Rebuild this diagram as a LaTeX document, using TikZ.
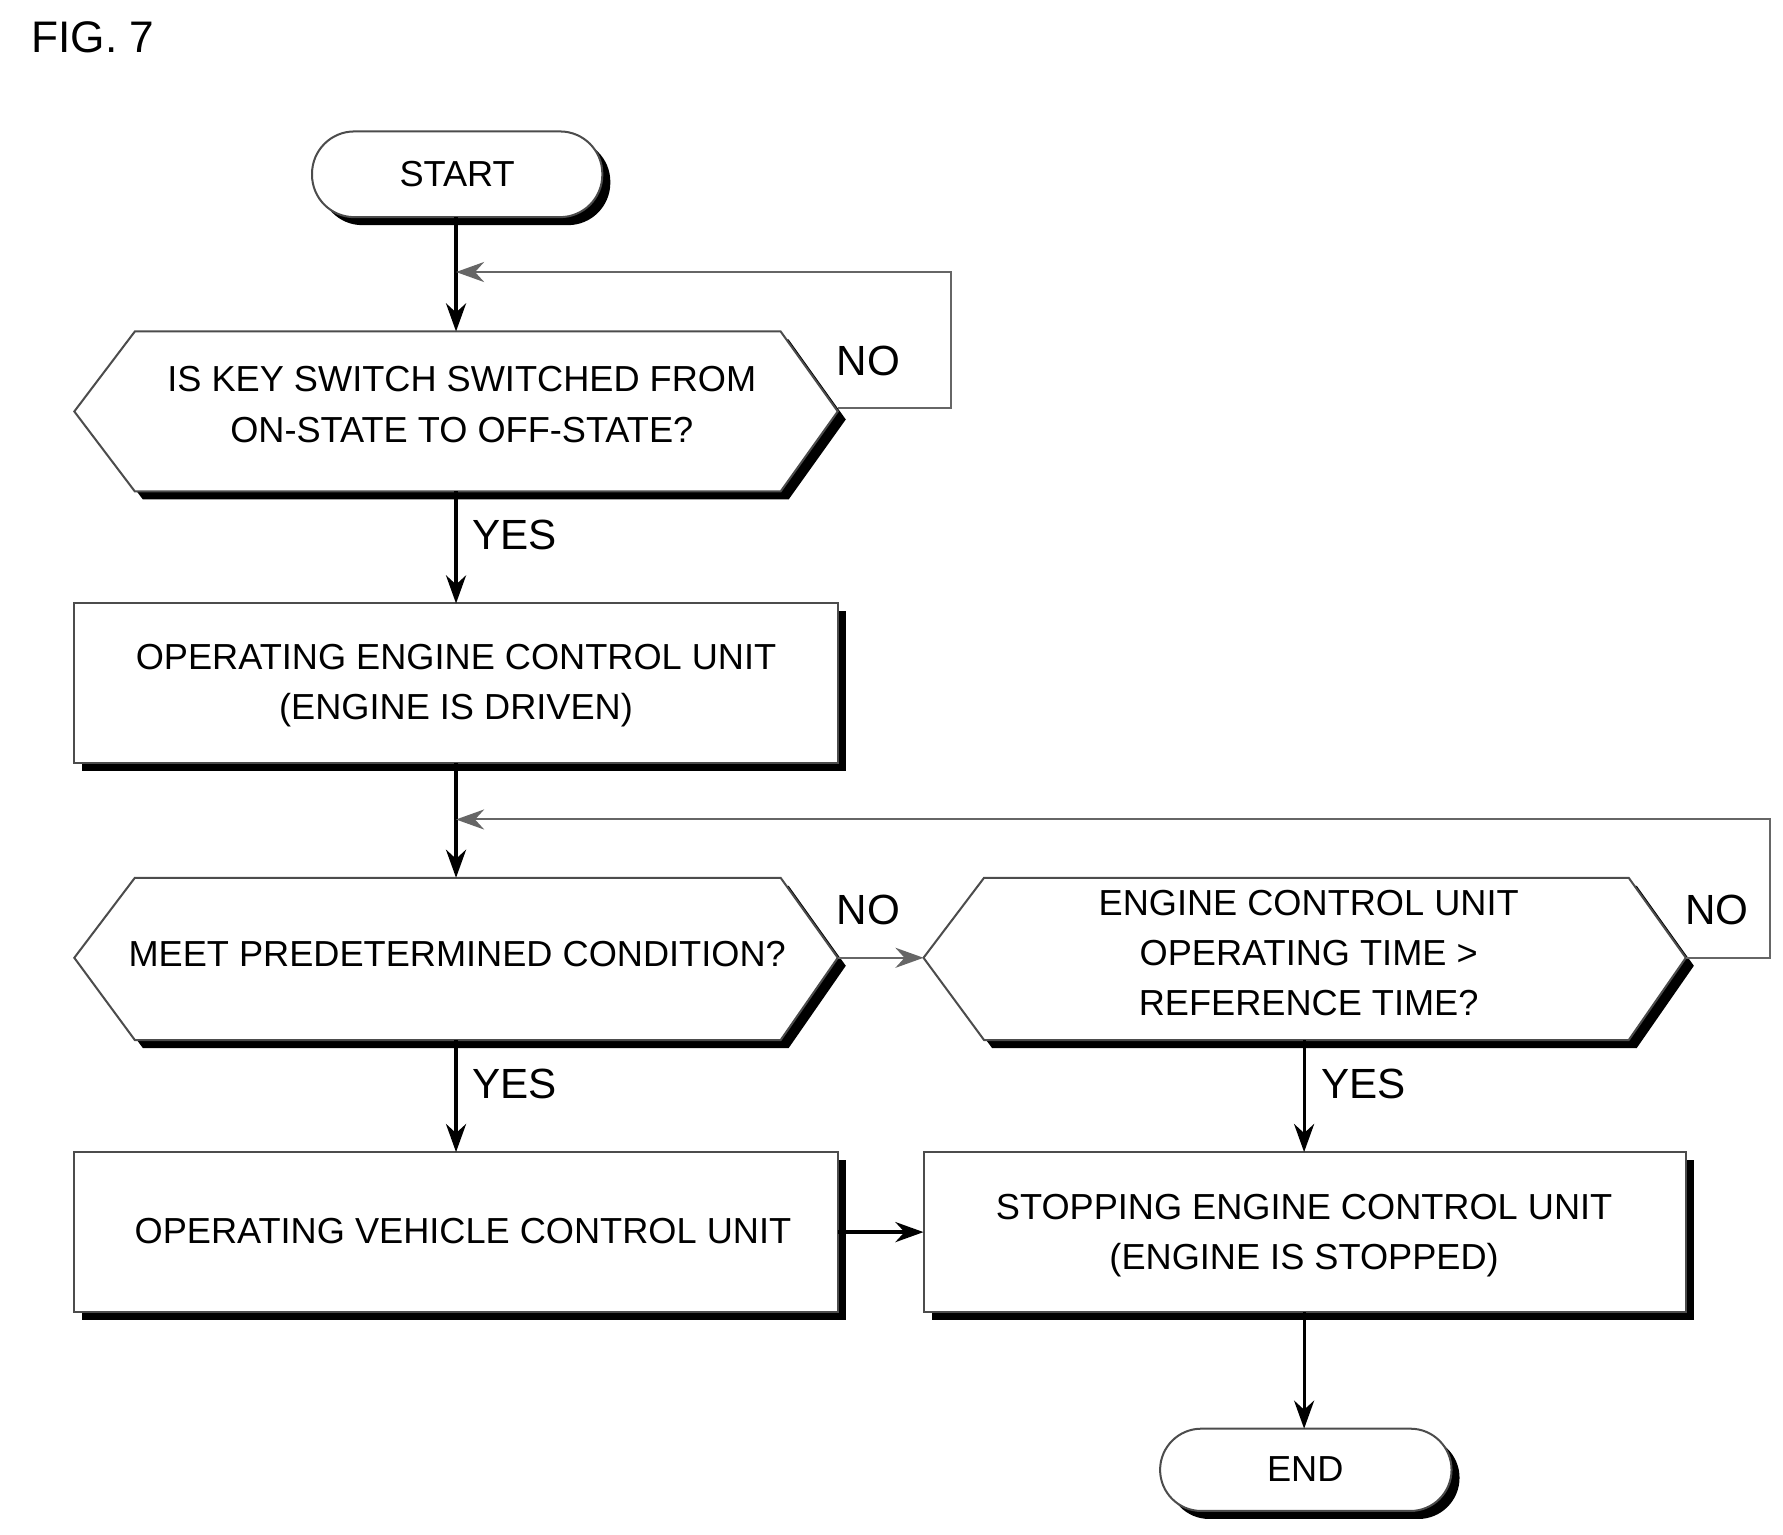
\documentclass[tikz,border=0pt]{standalone}
\usepackage{fontspec}
\setmainfont{Liberation Sans}
\usetikzlibrary{arrows.meta}
\begin{document}
\begin{tikzpicture}[x=0.01cm,y=-0.01cm,
  txt/.style={font=\fontsize{9}{12.5}\selectfont,align=center,inner sep=0},
  lbl/.style={font=\fontsize{10.5}{12}\selectfont,inner sep=0},
  box/.style={draw=black!70,line width=0.5pt,fill=white},
  shd/.style={fill=black},
  ar/.style={-{Stealth[length=7pt,width=5pt]},line width=0.8pt},
  fb/.style={draw=black!60,line width=0.5pt}]
\useasboundingbox (0,0) rectangle (1560,1343);
\node[anchor=west,font=\fontsize{11}{13}\selectfont] (fig) at (15,33) {FIG. 7};
% START
\fill[shd,rounded corners=0.37cm] (280,122) rectangle (534,197);
\filldraw[box,rounded corners=0.37cm] (273,115) rectangle (527,190);
\node[txt] (start) at (400,152) {START};
% hex1
\fill[shd] (72,367) -- (125,297) -- (690,297) -- (740,367) -- (690,437) -- (125,437) -- cycle;
\filldraw[box] (65,360) -- (118,290) -- (683,290) -- (733,360) -- (683,430) -- (118,430) -- cycle;
\node[txt] (d1) at (404,354) {IS KEY SWITCH SWITCHED FROM\\ON-STATE TO OFF-STATE?};
\coordinate (d1t) at (399,290); \coordinate (d1b) at (399,430); \coordinate (d1r) at (733,357);
% box1
\fill[shd] (72,535) rectangle (740,675);
\filldraw[box] (65,528) rectangle (733,668);
\node[txt] (b1) at (399,600) {OPERATING ENGINE CONTROL UNIT\\(ENGINE IS DRIVEN)};
% hex2
\fill[shd] (72,845) -- (125,775) -- (690,775) -- (740,845) -- (690,917) -- (125,917) -- cycle;
\filldraw[box] (65,838) -- (118,768) -- (683,768) -- (733,838) -- (683,910) -- (118,910) -- cycle;
\node[txt] (d2) at (400,835) {MEET PREDETERMINED CONDITION?};
% hex3
\fill[shd] (815,845) -- (868,775) -- (1432,775) -- (1482,845) -- (1432,917) -- (868,917) -- cycle;
\filldraw[box] (808,838) -- (861,768) -- (1425,768) -- (1475,838) -- (1425,910) -- (861,910) -- cycle;
\node[txt] (d3) at (1145,834) {ENGINE CONTROL UNIT\\OPERATING TIME \textgreater\\REFERENCE TIME?};
% box2, box3
\fill[shd] (72,1015) rectangle (740,1155);
\filldraw[box] (65,1008) rectangle (733,1148);
\node[txt] (b2) at (405,1077) {OPERATING VEHICLE CONTROL UNIT};
\fill[shd] (815,1015) rectangle (1482,1155);
\filldraw[box] (808,1008) rectangle (1475,1148);
\node[txt] (b3) at (1141,1081) {STOPPING ENGINE CONTROL UNIT\\(ENGINE IS STOPPED)};
% END
\fill[shd,rounded corners=0.36cm] (1022,1257) rectangle (1277,1329);
\filldraw[box,rounded corners=0.36cm] (1015,1250) rectangle (1270,1322);
\node[txt] (end) at (1142,1285) {END};
% connectors
\coordinate (s0) at (399,190);
\coordinate (j1) at (399,238);
\draw[ar] (s0) -- (d1t);
\draw[fb,-{Stealth[length=7pt,width=5pt]}] (d1r) -- (832,357) -- (832,238) -- (j1);
\node[lbl] (no1) at (760,316) {NO};
\draw[ar] (d1b) -- (399,528);
\node[lbl] (yes1) at (450,468) {YES};
\coordinate (j2) at (399,717);
\draw[ar] (399,668) -- (399,768);
\draw[fb,-{Stealth[length=7pt,width=5pt]}] (1475,838) -- (1549,838) -- (1549,717) -- (j2);
\node[lbl] (no2) at (760,796) {NO};
\draw[fb,-{Stealth[length=7pt,width=5pt]}] (733,838) -- (808,838);
\node[lbl] (no3) at (1502,796) {NO};
\draw[ar] (399,910) -- (399,1008);
\node[lbl] (yes2) at (450,948) {YES};
\draw[ar] (1141,910) -- (1141,1008);
\node[lbl] (yes3) at (1193,948) {YES};
\draw[ar] (733,1078) -- (808,1078);
\draw[ar] (1141,1148) -- (1141,1250);
\end{tikzpicture}
\end{document}
